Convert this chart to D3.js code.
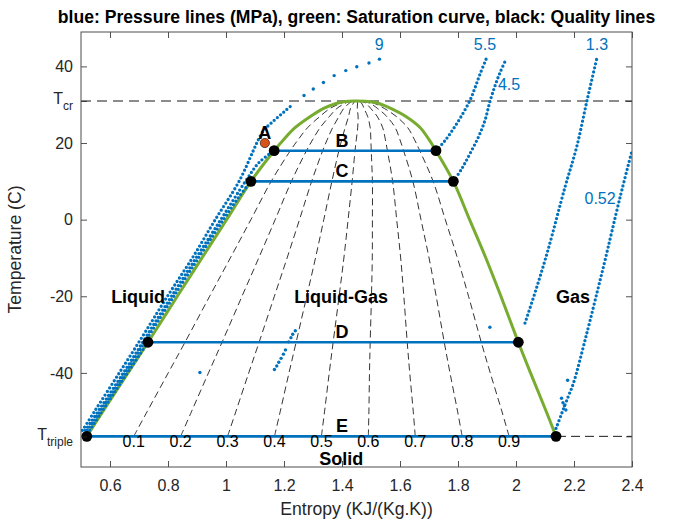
<!DOCTYPE html>
<html><head><meta charset="utf-8">
<script src="https://cdn.jsdelivr.net/npm/d3@7"></script>
<style>
body{margin:0;background:#fff}
text{font-family:"Liberation Sans",Arial,Helvetica,sans-serif}
</style>
</head><body>
<svg id="c" width="673" height="524"></svg>
<script>
// ---------- DATA ----------
const Tcr = 30.98, Ttriple = -56.56;
// saturation curve (T in C, entropy of sat. liquid / sat. vapour)
const satT  = [-56.56, -50, -40, -32, -20, -10, 0, 10, 18, 21, 24, 27, 29, 30.2, 30.7, 30.98];
const satSL = [0.520, 0.576, 0.662, 0.731, 0.832, 0.917, 1.002, 1.086, 1.166, 1.200, 1.238, 1.292, 1.335, 1.375, 1.400, 1.445];
const satSV = [2.138, 2.104, 2.050, 2.008, 1.948, 1.896, 1.840, 1.784, 1.724, 1.699, 1.670, 1.619, 1.570, 1.532, 1.505, 1.445];
const qualities = [0.1, 0.2, 0.3, 0.4, 0.5, 0.6, 0.7, 0.8, 0.9];

// pressure lines (MPa)
const p9T  = [-55, -50, -40, -30, -20, -10, 0, 10, 18, 20, 23.2, 25.5, 28, 30.2];
const p9S  = [0.505, 0.547, 0.632, 0.716, 0.798, 0.884, 0.963, 1.045, 1.094, 1.106, 1.129, 1.160, 1.198, 1.232];
const p9TopT = [32.4, 34.1, 35.8, 37.6, 38.9, 39.9, 40.9, 41.9];
const p9TopS = [1.269, 1.301, 1.336, 1.373, 1.413, 1.451, 1.493, 1.529];
const p55LiqT = [-55, -40, -20, 0, 10, 15, 18];
const p55LiqS = [0.515, 0.646, 0.812, 0.982, 1.067, 1.115, 1.166];
const p55VapT = [18, 20.6, 23.7, 27.2, 31.1, 34.5, 38.0, 41.9];
const p55VapS = [1.724, 1.755, 1.784, 1.813, 1.841, 1.859, 1.876, 1.897];
const p45LiqT = [-55, -40, -20, 0, 6, 10];
const p45LiqS = [0.522, 0.652, 0.820, 0.991, 1.045, 1.086];
const p45VapT = [10, 13.3, 17.2, 21.5, 25.9, 30.8, 35.0, 38.4, 41.9];
const p45VapS = [1.784, 1.813, 1.841, 1.870, 1.893, 1.910, 1.928, 1.945, 1.966];
const p13LiqT = [-55, -45, -32];
const p13LiqS = [0.530, 0.616, 0.731];
const p13VapT = [-27, -18, -8, 8.5, 18.9, 30.8, 41.9];
const p13VapS = [2.031, 2.070, 2.110, 2.169, 2.209, 2.244, 2.278];
const p052VapT = [-54.5, -50.5, -46.2, -42.7, -30, -15.8, -10.6, 5.9, 18];
const p052VapS = [2.138, 2.158, 2.180, 2.198, 2.243, 2.290, 2.307, 2.359, 2.400];
const strayT = [-39.9, -28.1, -46.6, -47.8, -48.6, -49.7, -41.9, -39.1, -38.2, -37.2, -36.2, -35.1, -34.0, -31.9, -30.8, -29.9, -29.0];
const strayS = [0.910, 1.910, 2.157, 2.162, 2.167, 2.172, 2.178, 1.167, 1.175, 1.182, 1.190, 1.198, 1.205, 1.216, 1.224, 1.230, 1.239];
const pressureLabels = ["9", "5.5", "4.5", "1.3", "0.52"];
const pressureLabelS = [1.528, 1.893, 1.976, 2.279, 2.290];
const pressureLabelT = [45.6, 45.6, 35.2, 45.6, 5.4];

// states
const stateNames = ["B", "C", "D", "E"];
const stateT = [18, 10, -32, Ttriple];
const pointA = {name: "A", s: 1.134, T: 20};
const regionNames = ["Liquid", "Liquid-Gas", "Gas", "Solid"];
const regionS = [0.697, 1.397, 2.197, 1.397];
const regionT = [-20.2, -20.2, -20.2, -62.4];

const xTicks = [0.6, 0.8, 1, 1.2, 1.4, 1.6, 1.8, 2, 2.2, 2.4];
const yTicks = [Ttriple, -40, -20, 0, 20, Tcr, 40];

// ---------- CHART ----------
const W = 673, H = 524;
const m = {l: 81, r: 41, t: 32, b: 57};
const svg = d3.select("#c");
const x = d3.scaleLinear().domain([0.5, 2.4]).range([m.l, W - m.r]);
const y = d3.scaleLinear().domain([Ttriple - 8, Tcr + 18]).range([H - m.b, m.t]);
const BLUE = "#0072BD", GREEN = "#77AC30", ORANGE = "#D95319";

svg.append("defs").append("clipPath").attr("id", "clip")
  .append("rect").attr("x", m.l).attr("y", m.t)
  .attr("width", W - m.l - m.r).attr("height", H - m.t - m.b);

const g = svg.append("g").attr("clip-path", "url(#clip)");
const lineST = d3.line().x(d => x(d[0])).y(d => y(d[1])).curve(d3.curveCatmullRom.alpha(0.5));

// quality lines
qualities.forEach(q => {
  const pts = satT.map((t, i) => [satSL[i] + q * (satSV[i] - satSL[i]), t]);
  g.append("path").attr("d", lineST(pts))
    .attr("fill", "none").attr("stroke", "#000").attr("stroke-width", 0.8)
    .attr("stroke-dasharray", "7,4");
});

// Tcr and Ttriple dashed lines
g.append("line").attr("x1", x(0.5)).attr("x2", x(2.4)).attr("y1", y(Tcr)).attr("y2", y(Tcr))
  .attr("stroke", "#666").attr("stroke-width", 1.6).attr("stroke-dasharray", "10,6");
g.append("line").attr("x1", x(0.5)).attr("x2", x(2.4)).attr("y1", y(Ttriple)).attr("y2", y(Ttriple))
  .attr("stroke", "#000").attr("stroke-width", 0.9).attr("stroke-dasharray", "9,5");

// saturation curve
const satPts = satT.map((t, i) => [satSL[i], t])
  .concat(satT.slice(0, -1).map((t, i) => [satSV[i], t]).reverse());
g.append("path").attr("d", lineST(satPts))
  .attr("fill", "none").attr("stroke", GREEN).attr("stroke-width", 3);

// pressure lines (dotted)
const isoSets = [[p9T, p9S], [p55LiqT, p55LiqS], [p55VapT, p55VapS], [p45LiqT, p45LiqS],
  [p45VapT, p45VapS], [p13LiqT, p13LiqS], [p13VapT, p13VapS], [p052VapT, p052VapS]];
isoSets.forEach(([Ts, Ss]) => {
  const pts = Ts.map((t, i) => [Ss[i], t]);
  g.append("path").attr("d", lineST(pts))
    .attr("fill", "none").attr("stroke", BLUE).attr("stroke-width", 3.3)
    .attr("stroke-linecap", "round").attr("stroke-dasharray", "0,4.2");
});
const dots = p9TopT.map((t, i) => [p9TopS[i], t]).concat(strayT.map((t, i) => [strayS[i], t]));
g.selectAll("circle.dot").data(dots).join("circle").attr("class", "dot")
  .attr("cx", d => x(d[0])).attr("cy", d => y(d[1])).attr("r", 1.7).attr("fill", BLUE);

// state lines
stateT.forEach(t => {
  const i = satT.indexOf(t);
  g.append("line").attr("x1", x(satSL[i])).attr("x2", x(satSV[i]))
    .attr("y1", y(t)).attr("y2", y(t)).attr("stroke", BLUE).attr("stroke-width", 2.6);
});
stateT.forEach(t => {
  const i = satT.indexOf(t);
  [satSL[i], satSV[i]].forEach(s => {
    svg.append("circle").attr("cx", x(s)).attr("cy", y(t)).attr("r", 5.4).attr("fill", "#000");
  });
});
svg.append("circle").attr("cx", x(pointA.s)).attr("cy", y(pointA.T)).attr("r", 4.6)
  .attr("fill", ORANGE).attr("stroke", "#3a2a20").attr("stroke-width", 0.8);

// labels
const bold = (txt, px, py) => svg.append("text").attr("x", px).attr("y", py)
  .attr("text-anchor", "middle").attr("dominant-baseline", "central")
  .attr("font-weight", "bold").attr("font-size", 18).attr("fill", "#000").text(txt);
bold(pointA.name, x(pointA.s), y(pointA.T) - 10);
stateT.forEach((t, i) => bold(stateNames[i], x(1.4), y(t) - 10));
regionNames.forEach((r, i) => bold(r, x(regionS[i]), y(regionT[i])));

qualities.forEach(q => {
  const s = satSL[0] + q * (satSV[0] - satSL[0]);
  svg.append("text").attr("x", x(s)).attr("y", y(Ttriple)).attr("dy", "0.69em")
    .attr("text-anchor", "middle").attr("font-size", 16).attr("fill", "#000").text(String(q));
});
pressureLabels.forEach((p, i) => {
  svg.append("text").attr("x", x(pressureLabelS[i])).attr("y", y(pressureLabelT[i]))
    .attr("text-anchor", "middle").attr("dominant-baseline", "central")
    .attr("font-size", 16).attr("fill", BLUE).text(p);
});

// axes
const AX = "#262626";
const styleAxis = sel => {
  sel.select(".domain").remove();
  sel.selectAll(".tick line").attr("stroke", AX).attr("stroke-width", 0.8);
  sel.selectAll(".tick text").attr("fill", AX).attr("font-size", 16)
    .style("font-family", '"Liberation Sans",Arial,Helvetica,sans-serif');
};
svg.append("g").attr("transform", `translate(0,${H - m.b})`)
  .call(d3.axisBottom(x).tickValues(xTicks).tickSizeInner(-6).tickSizeOuter(0).tickPadding(13).tickFormat(d => String(d)))
  .call(styleAxis);
svg.append("g").attr("transform", `translate(0,${m.t})`)
  .call(d3.axisTop(x).tickValues(xTicks).tickSizeInner(-6).tickSizeOuter(0).tickFormat(""))
  .call(styleAxis);
const yAxisG = svg.append("g").attr("transform", `translate(${m.l},0)`)
  .call(d3.axisLeft(y).tickValues(yTicks).tickSizeInner(-6).tickSizeOuter(0).tickPadding(8)
    .tickFormat(d => (d === Tcr || d === Ttriple) ? "" : String(d)))
  .call(styleAxis);
svg.append("g").attr("transform", `translate(${W - m.r},0)`)
  .call(d3.axisRight(y).tickValues(yTicks).tickSizeInner(-6).tickSizeOuter(0).tickFormat(""))
  .call(styleAxis);
yAxisG.selectAll(".tick").filter(d => d === Tcr || d === Ttriple).select("text")
  .attr("dy", null).attr("y", 3)
  .each(function(d) {
    const t = d3.select(this);
    t.append("tspan").text("T");
    t.append("tspan").attr("dy", 6).attr("font-size", 12).text(d === Tcr ? "cr" : "triple");
  });

svg.append("rect").attr("x", m.l).attr("y", m.t).attr("width", W - m.l - m.r).attr("height", H - m.t - m.b)
  .attr("fill", "none").attr("stroke", "#4d4d4d").attr("stroke-width", 1);

// titles
svg.append("text").attr("x", (m.l + W - m.r) / 2).attr("y", 23).attr("text-anchor", "middle")
  .attr("font-weight", "bold").attr("font-size", 17.6).attr("fill", "#000")
  .text("blue: Pressure lines (MPa), green: Saturation curve, black: Quality lines");
svg.append("text").attr("x", (m.l + W - m.r) / 2).attr("y", 514.5).attr("text-anchor", "middle")
  .attr("font-size", 17.6).attr("fill", AX).text("Entropy (KJ/(Kg.K))");
svg.append("text").attr("transform", `translate(21,${(m.t + H - m.b) / 2}) rotate(-90)`)
  .attr("text-anchor", "middle").attr("font-size", 17.6).attr("fill", AX).text("Temperature (C)");
</script>
</body></html>
